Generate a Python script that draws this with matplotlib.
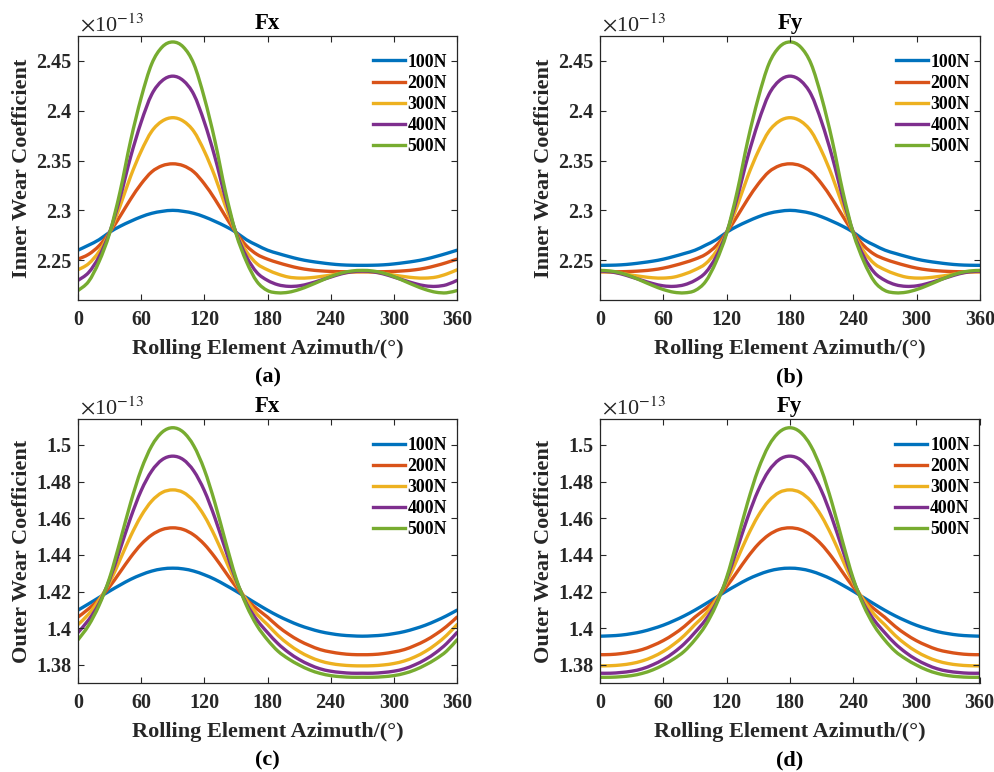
import numpy as np
import matplotlib
matplotlib.use("Agg")
import matplotlib.pyplot as plt
from matplotlib.ticker import FixedLocator, FuncFormatter
from matplotlib.path import Path
from matplotlib.patches import PathPatch
from matplotlib.lines import Line2D

plt.rcParams['font.family'] = ['Liberation Serif', 'DejaVu Serif']
plt.rcParams['mathtext.fontset'] = 'stix'

# rolling element azimuth, degrees
azimuth = np.arange(0, 361, 10)
loads = ['100N', '200N', '300N', '400N', '500N']
colors = ['#0072BD', '#D95319', '#EDB120', '#7E2F8E', '#77AC30']

# inner ring wear coefficient (x1e-13), radial load along x
inner_fx_100 = [2.260, 2.265, 2.2705, 2.278, 2.284, 2.289, 2.2935, 2.297, 2.299, 2.300, 2.299, 2.297, 2.2935, 2.289, 2.284, 2.278, 2.2705, 2.265,
                2.260, 2.2567, 2.2537, 2.251, 2.249, 2.2475, 2.2462, 2.2453, 2.2449, 2.2448, 2.2449, 2.2453, 2.2462, 2.2475, 2.249, 2.251, 2.2537, 2.2567, 2.260]
inner_fx_200 = [2.251, 2.2558, 2.2644, 2.2778, 2.2941, 2.3113, 2.3266, 2.3386, 2.3448, 2.3467, 2.3448, 2.3386, 2.3266, 2.3113, 2.2941, 2.2778, 2.2644, 2.2558,
                2.251, 2.2475, 2.2445, 2.242, 2.2403, 2.2393, 2.2387, 2.2384, 2.2383, 2.2383, 2.2383, 2.2384, 2.2387, 2.2393, 2.2403, 2.242, 2.2445, 2.2475, 2.251]
inner_fx_300 = [2.2403, 2.2464, 2.2586, 2.2777, 2.3044, 2.3342, 2.3594, 2.3793, 2.3896, 2.393, 2.3896, 2.3793, 2.3594, 2.3342, 2.3044, 2.2777, 2.2586, 2.2464,
                2.2403, 2.236, 2.233, 2.232, 2.2323, 2.2335, 2.235, 2.2368, 2.238, 2.2385, 2.238, 2.2368, 2.235, 2.2335, 2.2323, 2.232, 2.233, 2.236, 2.2403]
inner_fx_400 = [2.2297, 2.2375, 2.2535, 2.2779, 2.3127, 2.3537, 2.3886, 2.4163, 2.4302, 2.4347, 2.4302, 2.4163, 2.3886, 2.3537, 2.3127, 2.2779, 2.2535, 2.2375,
                2.2297, 2.2253, 2.2237, 2.2242, 2.2265, 2.2297, 2.233, 2.2362, 2.2383, 2.239, 2.2383, 2.2362, 2.233, 2.2297, 2.2265, 2.2242, 2.2237, 2.2253, 2.2297]
inner_fx_500 = [2.2195, 2.2285, 2.2485, 2.277, 2.319, 2.370, 2.413, 2.447, 2.464, 2.469, 2.464, 2.447, 2.413, 2.370, 2.319, 2.277, 2.2485, 2.2285,
                2.2195, 2.2172, 2.2178, 2.2205, 2.2245, 2.229, 2.2335, 2.237, 2.2391, 2.2397, 2.2391, 2.237, 2.2335, 2.229, 2.2245, 2.2205, 2.2178, 2.2172, 2.2195]

# inner ring wear coefficient (x1e-13), radial load along y
inner_fy_100 = [2.2448, 2.2449, 2.2453, 2.2462, 2.2475, 2.249, 2.251, 2.2537, 2.2567, 2.260, 2.265, 2.2705, 2.278, 2.284, 2.289, 2.2935, 2.297, 2.299, 2.300,
                2.299, 2.297, 2.2935, 2.289, 2.284, 2.278, 2.2705, 2.265, 2.260, 2.2567, 2.2537, 2.251, 2.249, 2.2475, 2.2462, 2.2453, 2.2449, 2.2448]
inner_fy_200 = [2.2383, 2.2383, 2.2384, 2.2387, 2.2393, 2.2403, 2.242, 2.2445, 2.2475, 2.251, 2.2558, 2.2644, 2.2778, 2.2941, 2.3113, 2.3266, 2.3386, 2.3448, 2.3467,
                2.3448, 2.3386, 2.3266, 2.3113, 2.2941, 2.2778, 2.2644, 2.2558, 2.251, 2.2475, 2.2445, 2.242, 2.2403, 2.2393, 2.2387, 2.2384, 2.2383, 2.2383]
inner_fy_300 = [2.2385, 2.238, 2.2368, 2.235, 2.2335, 2.2323, 2.232, 2.233, 2.236, 2.2403, 2.2464, 2.2586, 2.2777, 2.3044, 2.3342, 2.3594, 2.3793, 2.3896, 2.393,
                2.3896, 2.3793, 2.3594, 2.3342, 2.3044, 2.2777, 2.2586, 2.2464, 2.2403, 2.236, 2.233, 2.232, 2.2323, 2.2335, 2.235, 2.2368, 2.238, 2.2385]
inner_fy_400 = [2.239, 2.2383, 2.2362, 2.233, 2.2297, 2.2265, 2.2242, 2.2237, 2.2253, 2.2297, 2.2375, 2.2535, 2.2779, 2.3127, 2.3537, 2.3886, 2.4163, 2.4302, 2.4347,
                2.4302, 2.4163, 2.3886, 2.3537, 2.3127, 2.2779, 2.2535, 2.2375, 2.2297, 2.2253, 2.2237, 2.2242, 2.2265, 2.2297, 2.233, 2.2362, 2.2383, 2.239]
inner_fy_500 = [2.2397, 2.2391, 2.237, 2.2335, 2.229, 2.2245, 2.2205, 2.2178, 2.2172, 2.2195, 2.2285, 2.2485, 2.277, 2.319, 2.370, 2.413, 2.447, 2.464, 2.469,
                2.464, 2.447, 2.413, 2.370, 2.319, 2.277, 2.2485, 2.2285, 2.2195, 2.2172, 2.2178, 2.2205, 2.2245, 2.229, 2.2335, 2.237, 2.2391, 2.2397]

# outer ring wear coefficient (x1e-13), radial load along x
outer_fx_100 = [1.4099, 1.4133, 1.4168, 1.4203, 1.4236, 1.4267, 1.4292, 1.4312, 1.4324, 1.4328, 1.4324, 1.4312, 1.4292, 1.4267, 1.4236, 1.4203, 1.4168, 1.4133,
                1.4099, 1.4068, 1.4041, 1.4017, 1.3998, 1.3982, 1.3971, 1.3963, 1.3959, 1.3957, 1.3959, 1.3963, 1.3971, 1.3982, 1.3998, 1.4017, 1.4041, 1.4068, 1.4099]
outer_fx_200 = [1.4061, 1.4106, 1.4158, 1.4227, 1.4307, 1.4388, 1.4458, 1.4509, 1.4539, 1.4548, 1.4539, 1.4509, 1.4458, 1.4388, 1.4307, 1.4227, 1.4158, 1.4106,
                1.4061, 1.4010, 1.3968, 1.3933, 1.3906, 1.3884, 1.3871, 1.3862, 1.3857, 1.3856, 1.3857, 1.3862, 1.3871, 1.3884, 1.3906, 1.3933, 1.3968, 1.4010, 1.4061]
outer_fx_300 = [1.402, 1.4077, 1.4155, 1.425, 1.4375, 1.4503, 1.4613, 1.4694, 1.4741, 1.4755, 1.4741, 1.4694, 1.4613, 1.4503, 1.4375, 1.425, 1.4155, 1.4077,
                1.402, 1.3961, 1.3913, 1.3874, 1.3844, 1.3822, 1.3808, 1.3800, 1.3796, 1.3795, 1.3796, 1.3800, 1.3808, 1.3822, 1.3844, 1.3874, 1.3913, 1.3961, 1.402]
outer_fx_400 = [1.3977, 1.4045, 1.4135, 1.4266, 1.4431, 1.4603, 1.4751, 1.4858, 1.4920, 1.4939, 1.4920, 1.4858, 1.4751, 1.4603, 1.4431, 1.4266, 1.4135, 1.4045,
                1.3977, 1.3916, 1.3868, 1.3830, 1.3801, 1.3779, 1.3766, 1.3759, 1.3755, 1.3755, 1.3755, 1.3759, 1.3766, 1.3779, 1.3801, 1.3830, 1.3868, 1.3916, 1.3977]
outer_fx_500 = [1.3937, 1.4015, 1.4125, 1.4275, 1.4475, 1.4685, 1.4865, 1.4995, 1.5070, 1.5094, 1.5070, 1.4995, 1.4865, 1.4685, 1.4475, 1.4275, 1.4125, 1.4015,
                1.3937, 1.3875, 1.3833, 1.3800, 1.3773, 1.3754, 1.3742, 1.3736, 1.3733, 1.3733, 1.3733, 1.3736, 1.3742, 1.3754, 1.3773, 1.3800, 1.3833, 1.3875, 1.3937]

# outer ring wear coefficient (x1e-13), radial load along y
outer_fy_100 = [1.3957, 1.3959, 1.3963, 1.3971, 1.3982, 1.3998, 1.4017, 1.4041, 1.4068, 1.4099, 1.4133, 1.4168, 1.4203, 1.4236, 1.4267, 1.4292, 1.4312, 1.4324, 1.4328,
                1.4324, 1.4312, 1.4292, 1.4267, 1.4236, 1.4203, 1.4168, 1.4133, 1.4099, 1.4068, 1.4041, 1.4017, 1.3998, 1.3982, 1.3971, 1.3963, 1.3959, 1.3957]
outer_fy_200 = [1.3856, 1.3857, 1.3862, 1.3871, 1.3884, 1.3906, 1.3933, 1.3968, 1.4010, 1.4061, 1.4106, 1.4158, 1.4227, 1.4307, 1.4388, 1.4458, 1.4509, 1.4539, 1.4548,
                1.4539, 1.4509, 1.4458, 1.4388, 1.4307, 1.4227, 1.4158, 1.4106, 1.4061, 1.4010, 1.3968, 1.3933, 1.3906, 1.3884, 1.3871, 1.3862, 1.3857, 1.3856]
outer_fy_300 = [1.3795, 1.3796, 1.3800, 1.3808, 1.3822, 1.3844, 1.3874, 1.3913, 1.3961, 1.402, 1.4077, 1.4155, 1.425, 1.4375, 1.4503, 1.4613, 1.4694, 1.4741, 1.4755,
                1.4741, 1.4694, 1.4613, 1.4503, 1.4375, 1.425, 1.4155, 1.4077, 1.402, 1.3961, 1.3913, 1.3874, 1.3844, 1.3822, 1.3808, 1.3800, 1.3796, 1.3795]
outer_fy_400 = [1.3755, 1.3755, 1.3759, 1.3766, 1.3779, 1.3801, 1.3830, 1.3868, 1.3916, 1.3977, 1.4045, 1.4135, 1.4266, 1.4431, 1.4603, 1.4751, 1.4858, 1.4920, 1.4939,
                1.4920, 1.4858, 1.4751, 1.4603, 1.4431, 1.4266, 1.4135, 1.4045, 1.3977, 1.3916, 1.3868, 1.3830, 1.3801, 1.3779, 1.3766, 1.3759, 1.3755, 1.3755]
outer_fy_500 = [1.3733, 1.3733, 1.3736, 1.3742, 1.3754, 1.3773, 1.3800, 1.3833, 1.3875, 1.3937, 1.4015, 1.4125, 1.4275, 1.4475, 1.4685, 1.4865, 1.4995, 1.5070, 1.5094,
                1.5070, 1.4995, 1.4865, 1.4685, 1.4475, 1.4275, 1.4125, 1.4015, 1.3937, 1.3875, 1.3833, 1.3800, 1.3773, 1.3754, 1.3742, 1.3736, 1.3733, 1.3733]

inner_ticks = [2.25, 2.3, 2.35, 2.4, 2.45]
outer_ticks = [1.38, 1.4, 1.42, 1.44, 1.46, 1.48, 1.5]
x_ticks = [0, 60, 120, 180, 240, 300, 360]

panels = [
    # (axes rect in pixels: left, top, right, bottom), title, ylabel, series, ylim, yticks, tag
    ((78, 36, 457, 300), 'Fx', 'Inner Wear Coefficient',
     [inner_fx_100, inner_fx_200, inner_fx_300, inner_fx_400, inner_fx_500], (2.21, 2.475), inner_ticks, '(a)'),
    ((600, 36, 980, 300), 'Fy', 'Inner Wear Coefficient',
     [inner_fy_100, inner_fy_200, inner_fy_300, inner_fy_400, inner_fy_500], (2.21, 2.475), inner_ticks, '(b)'),
    ((78, 419.3, 457, 683.3), 'Fx', 'Outer Wear Coefficient',
     [outer_fx_100, outer_fx_200, outer_fx_300, outer_fx_400, outer_fx_500], (1.37, 1.514), outer_ticks, '(c)'),
    ((600, 419.3, 979.5, 683.3), 'Fy', 'Outer Wear Coefficient',
     [outer_fy_100, outer_fy_200, outer_fy_300, outer_fy_400, outer_fy_500], (1.37, 1.514), outer_ticks, '(d)'),
]


def smooth_path(x, y):
    # Catmull-Rom style cubic segments through the sampled points
    p = np.column_stack([x, y]).astype(float)
    ext = np.vstack([p[0], p, p[-1]])
    verts = [p[0]]
    codes = [Path.MOVETO]
    for i in range(len(p) - 1):
        a, b, c, d = ext[i], ext[i + 1], ext[i + 2], ext[i + 3]
        verts += [b + (c - a) / 6, c - (d - b) / 6, c]
        codes += [Path.CURVE4] * 3
    return Path(verts, codes)


W, H = 994, 772
ink = '#262626'
LW = 2.4
fig = plt.figure(figsize=(W / 100, H / 100), dpi=100)

for (l, t, r, b), title, ylabel, series, ylim, yticks, tag in panels:
    ax = fig.add_axes([l / W, 1 - b / H, (r - l) / W, (b - t) / H])
    handles = []
    for vals, name, c in zip(series, loads, colors):
        ax.add_patch(PathPatch(smooth_path(azimuth, vals), facecolor='none',
                               edgecolor=c, lw=LW, capstyle='round', joinstyle='round'))
        handles.append(Line2D([], [], color=c, lw=LW, label=name))

    ax.set_xlim(0, 360)
    ax.set_ylim(*ylim)
    ax.xaxis.set_major_locator(FixedLocator(x_ticks))
    ax.yaxis.set_major_locator(FixedLocator(yticks))
    ax.yaxis.set_major_formatter(FuncFormatter(lambda v, p: '%g' % v))
    ax.tick_params(direction='in', length=4, width=0.8, colors=ink, labelsize=14.5,
                   top=True, right=True, pad=7)
    ax.tick_params(axis='y', pad=5)
    for lab in ax.get_xticklabels() + ax.get_yticklabels():
        lab.set_fontweight('bold')
    for sp in ax.spines.values():
        sp.set_linewidth(0.9)
        sp.set_color(ink)

    ax.set_title(title, fontsize=16.5, fontweight='bold', color='black', pad=5)
    ax.set_ylabel(ylabel, fontsize=16, fontweight='bold', color=ink)
    ax.yaxis.set_label_coords(-56 / (r - l), 0.5)
    ax.set_xlabel('Rolling Element Azimuth/(°)', fontsize=16, fontweight='bold', color=ink)
    ax.xaxis.set_label_coords(0.5, -49 / (b - t))
    ax.xaxis.label.set_va('center')
    ax.yaxis.label.set_va('center')

    ax.text(0.005, 1.0, r'$\times\mathregular{10}^{-13}$', transform=ax.transAxes,
            fontsize=16, color=ink, ha='left', va='bottom')

    ax.legend(handles=handles, loc='upper right', bbox_to_anchor=(1.0, 0.97), frameon=False,
              handlelength=1.8, handletextpad=0.17, labelspacing=0.23, borderaxespad=0.15,
              prop={'weight': 'bold', 'size': 12.8})

    fig.text((l + r) / 2 / W, 1 - (b + 77) / H, tag, fontsize=16, fontweight='bold',
             ha='center', va='center')

fig.savefig('out.png', dpi=100)
